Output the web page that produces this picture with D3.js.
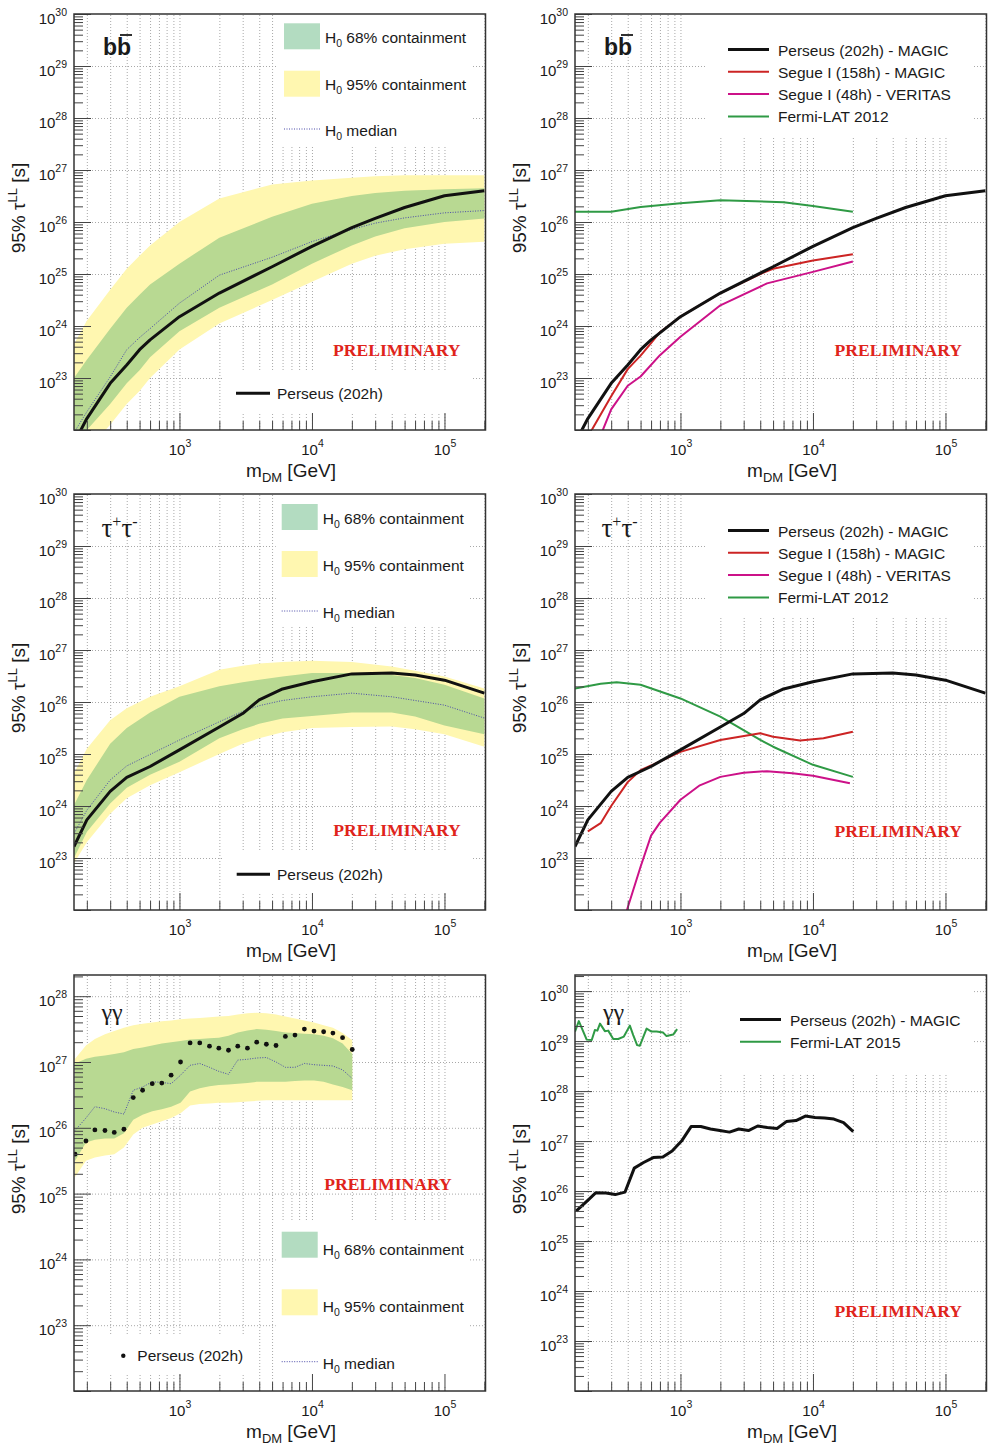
<!DOCTYPE html>
<html>
<head>
<meta charset="utf-8">
<script src="https://cdn.jsdelivr.net/npm/d3@7"></script>
<style>
  body { margin: 0; background: #fff; }
  text { font-family: "Liberation Sans", Arial, sans-serif; }
</style>
</head>
<body>
<svg id="chart" width="988" height="1445"></svg>
<script>
// ---- data (masses in GeV, lifetimes in s) ----
const xDomain = [160, 2.04e5];

// b bbar channel
const massBB = [160, 200, 300, 400, 500, 600, 1000, 2000, 5000, 10000, 20000, 30000, 50000, 100000, 200000];
const bbPerseus = [5.6e21, 1.66e22, 7.9e22, 1.78e23, 3.5e23, 5.4e23, 1.51e24, 4.3e24, 1.38e25, 3.4e25, 7.8e25, 1.17e26, 1.9e26, 3.2e26, 4.0e26];
const bbMedian = [8.9e21, 2.24e22, 1.05e23, 3.5e23, 6.0e23, 8.9e23, 2.75e24, 9.5e24, 2.1e25, 4.2e25, 7.2e25, 9.5e25, 1.2e26, 1.5e26, 1.66e26];
const bb68hi = [1.0e23, 2.24e23, 8.9e23, 2.24e24, 4.0e24, 6.3e24, 1.58e25, 5.0e25, 1.26e26, 2.24e26, 3.16e26, 3.63e26, 4.0e26, 4.27e26, 4.47e26];
const bb68lo = [5.0e21, 1.0e22, 3.16e22, 7.9e22, 1.41e23, 2.5e23, 7.9e23, 2.24e24, 6.3e24, 1.58e25, 3.55e25, 5.25e25, 7.6e25, 1.0e26, 1.17e26];
const bb95hi = [4.47e23, 1.26e24, 5.0e24, 1.26e25, 2.24e25, 3.55e25, 1.0e26, 2.82e26, 5.25e26, 6.3e26, 7.1e26, 7.6e26, 7.9e26, 7.9e26, 7.9e26];
const bb95lo = [2.0e21, 4.0e21, 1.26e22, 3.16e22, 5.6e22, 1.0e23, 3.55e23, 1.12e24, 3.16e24, 7.1e24, 1.58e25, 2.24e25, 3.0e25, 3.8e25, 4.17e25];
const massSegueBB = [200, 300, 400, 500, 600, 700, 1000, 2000, 4000, 5000, 10000, 20000];
const bbSegueMagic = [7.4e21, 4.47e22, 1.48e23, 2.69e23, 4.68e23, 7.6e23, 1.51e24, 4.3e24, 1.0e25, 1.26e25, 1.82e25, 2.4e25];
const massVeritasBB = [250, 300, 400, 500, 700, 1000, 2000, 4500, 10000, 20000];
const bbSegueVeritas = [7.9e21, 2.5e22, 7.1e22, 1.07e23, 2.75e23, 6.2e23, 2.5e24, 6.6e24, 1.1e25, 1.74e25];
const massFermiBB = [160, 300, 500, 1000, 2000, 6000, 10000, 20000];
const bbFermi = [1.58e26, 1.58e26, 1.95e26, 2.29e26, 2.63e26, 2.4e26, 2.04e26, 1.58e26];

// tau+ tau- channel
const massTT = [160, 200, 300, 400, 600, 1000, 2000, 3000, 4000, 6000, 10000, 20000, 40000, 60000, 100000, 200000];
const ttPerseus = [1.66e23, 5.4e23, 1.91e24, 3.55e24, 5.75e24, 1.2e25, 3.3e25, 6.0e25, 1.1e26, 1.78e26, 2.45e26, 3.47e26, 3.63e26, 3.3e26, 2.63e26, 1.48e26];
const ttMedian = [2.95e23, 8.3e23, 3.16e24, 5.9e24, 9.8e24, 1.86e25, 4.17e25, 6.6e25, 8.5e25, 1.07e26, 1.26e26, 1.48e26, 1.26e26, 1.07e26, 8.7e25, 4.9e25];
const tt68hi = [1.05e24, 3.16e24, 1.58e25, 3.16e25, 6.3e25, 1.26e26, 2.0e26, 2.4e26, 2.69e26, 3.09e26, 3.63e26, 3.63e26, 3.3e26, 2.88e26, 2.14e26, 1.17e26];
const tt68lo = [1.0e23, 3.16e23, 1.12e24, 2.24e24, 4.0e24, 7.1e24, 2.0e25, 3.0e25, 3.8e25, 4.8e25, 5.4e25, 6.3e25, 6.3e25, 5.25e25, 3.55e25, 2.4e25];
const tt95hi = [4.27e24, 1.26e25, 4.47e25, 7.6e25, 1.26e26, 2.0e26, 4.17e26, 5.0e26, 5.5e26, 5.9e26, 6.2e26, 5.9e26, 4.79e26, 4.0e26, 3.09e26, 1.82e26];
const tt95lo = [7.9e22, 2.0e23, 7.1e23, 1.41e24, 2.5e24, 4.47e24, 1.0e25, 1.58e25, 2.0e25, 2.63e25, 3.16e25, 3.3e25, 3.39e25, 3.0e25, 2.4e25, 1.38e25];
const massSegueTT = [200, 250, 300, 400, 500, 600, 1000, 2000, 4000, 5000, 8000, 12000, 20000];
const ttSegueMagic = [3.24e23, 4.68e23, 1.0e24, 2.88e24, 4.9e24, 6.0e24, 1.1e25, 1.86e25, 2.5e25, 2.14e25, 1.82e25, 2.0e25, 2.69e25];
const massVeritasTT = [350, 400, 500, 600, 700, 1000, 1400, 2000, 3000, 4500, 7000, 10000, 19000];
const ttSegueVeritas = [3.16e21, 1.12e22, 6.8e22, 2.7e23, 4.8e23, 1.32e24, 2.5e24, 3.63e24, 4.37e24, 4.68e24, 4.27e24, 3.8e24, 2.75e24];
const massFermiTT = [160, 250, 330, 500, 1000, 2000, 4000, 5000, 10000, 20000];
const ttFermi = [1.82e26, 2.24e26, 2.4e26, 2.14e26, 1.17e26, 5.25e25, 1.86e25, 1.38e25, 6.2e24, 3.63e24];

// gamma gamma channel
const massGG = [163, 197, 230, 274, 322, 381, 448, 527, 623, 736, 865, 1019, 1203, 1423, 1685, 1982, 2344, 2754, 3258, 3828, 4528, 5354, 6300, 7444, 8765, 10360, 12250, 14390, 17020, 20140];
const ggPerseus = [3.98e25, 6.3e25, 9.3e25, 9.1e25, 8.5e25, 9.5e25, 2.88e26, 3.72e26, 4.68e26, 4.79e26, 6.3e26, 1.0e27, 1.95e27, 1.95e27, 1.74e27, 1.62e27, 1.51e27, 1.74e27, 1.62e27, 2.0e27, 1.86e27, 1.78e27, 2.45e27, 2.57e27, 3.16e27, 2.95e27, 2.88e27, 2.75e27, 2.34e27, 1.55e27];
const ggMedian = [9.1e25, 1.41e26, 2.09e26, 1.95e26, 1.74e26, 1.62e26, 3.72e26, 4.17e26, 5.0e26, 4.9e26, 4.68e26, 6.3e26, 8.9e26, 9.5e26, 8.3e26, 7.2e26, 6.5e26, 1.07e27, 1.1e27, 1.15e27, 1.17e27, 1.0e27, 8.3e26, 8.3e26, 9.5e26, 9.1e26, 8.9e26, 8.7e26, 7.6e26, 5.6e26];
const gg68hi = [9.5e26, 1.12e27, 1.2e27, 1.26e27, 1.32e27, 1.41e27, 1.58e27, 1.66e27, 1.78e27, 1.91e27, 2.0e27, 2.09e27, 2.19e27, 2.24e27, 2.29e27, 2.34e27, 2.51e27, 2.82e27, 3.02e27, 3.16e27, 3.09e27, 2.95e27, 2.82e27, 2.75e27, 2.69e27, 2.63e27, 2.51e27, 2.29e27, 1.91e27, 1.32e27];
const gg68lo = [3.16e25, 6.0e25, 6.6e25, 6.9e25, 6.9e25, 8.3e25, 1.32e26, 1.58e26, 1.78e26, 1.91e26, 2.09e26, 2.4e26, 3.55e26, 4.0e26, 4.27e26, 4.47e26, 4.57e26, 4.68e26, 4.79e26, 5.0e26, 5.0e26, 5.0e26, 5.0e26, 5.13e26, 5.25e26, 5.25e26, 5.0e26, 4.57e26, 4.17e26, 3.72e26];
const gg95hi = [1.12e27, 1.78e27, 2.24e27, 2.63e27, 2.95e27, 3.31e27, 3.63e27, 3.8e27, 3.98e27, 4.17e27, 4.27e27, 4.47e27, 4.57e27, 4.68e27, 4.79e27, 4.9e27, 5.0e27, 5.25e27, 5.5e27, 5.6e27, 5.5e27, 5.25e27, 4.9e27, 4.57e27, 4.27e27, 3.98e27, 3.63e27, 3.31e27, 2.75e27, 2.14e27];
const gg95lo = [1.78e25, 3.16e25, 3.55e25, 3.8e25, 3.98e25, 5.0e25, 7.9e25, 1.0e26, 1.12e26, 1.26e26, 1.41e26, 1.66e26, 2.19e26, 2.29e26, 2.34e26, 2.4e26, 2.4e26, 2.45e26, 2.51e26, 2.57e26, 2.63e26, 2.63e26, 2.63e26, 2.63e26, 2.63e26, 2.63e26, 2.63e26, 2.63e26, 2.63e26, 2.63e26];
const massFermiGG = [160, 171, 196, 214, 226, 236, 247, 269, 285, 311, 339, 374, 415, 440, 471, 494, 555, 605, 660, 740, 785, 881, 944];
const ggFermi = [1.55e29, 2.51e29, 1.07e29, 1.05e29, 1.66e29, 1.62e29, 2.24e29, 1.58e29, 1.62e29, 1.1e29, 1.1e29, 1.23e29, 2.04e29, 1.32e29, 8.3e28, 8.1e28, 1.78e29, 1.55e29, 1.55e29, 1.48e29, 1.26e29, 1.35e29, 1.74e29];

// ---- styles ----
const cYellow = '#fff7b0', cGreenBand = '#b8d992', cGreenKey = '#b3dcc1';
const cRed = '#cc2424', cMagenta = '#cc1188', cFermi = '#2f9a45', cMedian = '#4a4aa8';

const svg = d3.select('#chart');
const isDecade = v => Math.abs(Math.log10(v) - Math.round(Math.log10(v))) < 1e-6;

function powLabel(sel) {
  sel.each(function (d) {
    const t = d3.select(this).text(null)
      .style('font-size', '15px').style('font-family', '"Liberation Sans", Arial, sans-serif').attr('fill', '#1a1a1a');
    t.append('tspan').text('10');
    t.append('tspan').attr('dy', -8).style('font-size', '10.5px').text(Math.round(Math.log10(d)));
  });
}

function makePanel(id, x0, y0, y1, yTop) {
  const x1 = x0 + 411.5, w = x1 - x0, h = y1 - y0;
  const x = d3.scaleLog().domain(xDomain).range([x0, x1]);
  const y = d3.scaleLog().domain([1e22, yTop]).range([y1, y0]);
  const g = svg.append('g');
  svg.append('clipPath').attr('id', 'clip-' + id).append('rect')
    .attr('x', x0).attr('y', y0).attr('width', w).attr('height', h);

  const xAll = x.ticks(), yAll = y.ticks();
  const xMajor = xAll.filter(isDecade), xMinor = xAll.filter(v => !isDecade(v));
  const yMajor = yAll.filter(isDecade), yMinor = yAll.filter(v => !isDecade(v));

  // dotted grid
  g.append('g').attr('class', 'grid').attr('transform', `translate(0,${y1})`)
    .call(d3.axisBottom(x).tickValues(xAll).tickSize(-h).tickFormat(''));
  g.append('g').attr('class', 'grid').attr('transform', `translate(${x0},0)`)
    .call(d3.axisLeft(y).tickValues(yMajor.filter(v => y(v) > y0 + 1 && y(v) < y1 - 1)).tickSize(-w).tickFormat(''));
  g.selectAll('.grid .domain').remove();
  g.selectAll('.grid line').attr('stroke', '#a8a8a8').attr('stroke-dasharray', '1,2');

  const plot = g.append('g').attr('clip-path', `url(#clip-${id})`);
  const over = g.append('g');

  function finish() {
    const axes = g.append('g').attr('color', '#444');
    axes.append('g').attr('transform', `translate(0,${y1})`)
      .call(d3.axisBottom(x).tickValues(xMinor).tickSize(-9).tickFormat(''));
    axes.append('g').attr('transform', `translate(0,${y1})`)
      .call(d3.axisBottom(x).tickValues(xMajor).tickSize(-17).tickPadding(14))
      .selectAll('text').call(powLabel);
    axes.append('g').attr('transform', `translate(${x0},0)`)
      .call(d3.axisLeft(y).tickValues(yMinor).tickSize(-9).tickFormat(''));
    axes.append('g').attr('transform', `translate(${x0},0)`)
      .call(d3.axisLeft(y).tickValues(yMajor).tickSize(-17).tickPadding(7))
      .selectAll('text').attr('dy', '0.6em').call(powLabel)
      .filter(d => d < 1e23).remove();
    axes.selectAll('.domain').remove();

    g.append('rect').attr('x', x0).attr('y', y0).attr('width', w).attr('height', h)
      .attr('fill', 'none').attr('stroke', '#333').attr('stroke-width', 1.5);

    // axis titles
    const xt = g.append('text').attr('x', x0 + 217).attr('y', y1 + 47)
      .attr('text-anchor', 'middle').style('font-size', '19px').attr('fill', '#1a1a1a');
    xt.append('tspan').text('m');
    xt.append('tspan').attr('dy', 5).style('font-size', '13px').text('DM');
    xt.append('tspan').attr('dy', -5).text(' [GeV]');
    const yt = g.append('text').attr('transform', `translate(${x0 - 49},${y0 + 194}) rotate(-90)`)
      .attr('text-anchor', 'middle').style('font-size', '19px').attr('fill', '#1a1a1a');
    yt.append('tspan').text('95% \u03c4');
    yt.append('tspan').attr('dy', -8).style('font-size', '13px').text('LL');
    yt.append('tspan').attr('dy', 8).text(' [s]');
  }
  return { g, plot, over, x, y, x0, x1, y0, y1, finish };
}

function zip(mass, ...cols) {
  return mass.map((m, i) => ({ m, v: cols.map(c => c[i]) }));
}

function bands(p, mass, lo95, hi95, lo68, hi68, median) {
  const area = (a, b) => d3.area().x(d => p.x(d.m)).y0(d => p.y(d.v[a])).y1(d => p.y(d.v[b]));
  const data = zip(mass, lo95, hi95, lo68, hi68, median);
  p.plot.append('path').datum(data).attr('d', area(0, 1)).attr('fill', cYellow);
  p.plot.append('path').datum(data).attr('d', area(2, 3)).attr('fill', cGreenBand);
  p.plot.append('path').datum(data)
    .attr('d', d3.line().x(d => p.x(d.m)).y(d => p.y(d.v[4])))
    .attr('fill', 'none').attr('stroke', cMedian).attr('stroke-width', 1).attr('stroke-dasharray', '1,1.5');
}

function curve(p, mass, vals, color, width) {
  p.plot.append('path').datum(zip(mass, vals))
    .attr('d', d3.line().x(d => p.x(d.m)).y(d => p.y(d.v[0])))
    .attr('fill', 'none').attr('stroke', color).attr('stroke-width', width)
    .attr('stroke-linejoin', 'round');
}

function whiteBox(p, x, y, w, h) {
  p.over.append('rect').attr('x', x).attr('y', y).attr('width', w).attr('height', h).attr('fill', '#fff');
}

function legendText(p, x, y, parts) {
  const t = p.over.append('text').attr('x', x).attr('y', y).style('font-size', '15.5px').attr('fill', '#1a1a1a');
  parts.forEach(([s, dy, fs]) => {
    const ts = t.append('tspan').text(s);
    if (dy) ts.attr('dy', dy);
    if (fs) ts.style('font-size', fs);
  });
  return t;
}

function h0Legend(p, x, ys) {
  whiteBox(p, x - 6, ys[6], 193, ys[7]);
  p.over.append('rect').attr('x', x).attr('y', ys[0]).attr('width', 36).attr('height', 26).attr('fill', cGreenKey);
  legendText(p, x + 41, ys[1], [['H'], ['0', 4, '10.5px'], [' 68% containment', -4]]);
  p.over.append('rect').attr('x', x).attr('y', ys[2]).attr('width', 36).attr('height', 26).attr('fill', cYellow);
  legendText(p, x + 41, ys[3], [['H'], ['0', 4, '10.5px'], [' 95% containment', -4]]);
  p.over.append('line').attr('x1', x).attr('x2', x + 36).attr('y1', ys[4]).attr('y2', ys[4])
    .attr('stroke', cMedian).attr('stroke-width', 1).attr('stroke-dasharray', '1,1.5');
  legendText(p, x + 41, ys[5], [['H'], ['0', 4, '10.5px'], [' median', -4]]);
}

function lineLegend(p, x, y, entries) {
  entries.forEach(([label, color, width], i) => {
    const yb = y + i * 22.3;
    p.over.append('line').attr('x1', x).attr('x2', x + 41).attr('y1', yb - 6).attr('y2', yb - 6)
      .attr('stroke', color).attr('stroke-width', width);
    legendText(p, x + 50, yb, [[label]]);
  });
}

function prelim(p, x, y) {
  p.over.append('text').attr('x', x).attr('y', y)
    .style('font-family', '"Liberation Serif", "Times New Roman", serif').style('font-weight', 'bold')
    .style('font-size', '17.6px').attr('fill', '#e0241b').text('PRELIMINARY');
}

function labelBB(p, x, y) {
  p.over.append('text').attr('x', x).attr('y', y).style('font-weight', 'bold').style('font-size', '23px')
    .attr('fill', '#1a1a1a').text('bb');
  p.over.append('line').attr('x1', x + 17).attr('x2', x + 29).attr('y1', y - 20).attr('y2', y - 20)
    .attr('stroke', '#1a1a1a').attr('stroke-width', 1.8);
}

function labelTT(p, x, y) {
  const t = p.over.append('text').attr('x', x).attr('y', y)
    .style('font-family', '"Liberation Serif", "Times New Roman", serif').style('font-size', '27px').attr('fill', '#1a1a1a');
  t.append('tspan').text('\u03c4');
  t.append('tspan').attr('dy', -10).style('font-size', '16px').text('+');
  t.append('tspan').attr('dy', 10).text('\u03c4');
  t.append('tspan').attr('dy', -10).style('font-size', '16px').text('-');
}

function labelGG(p, x, y) {
  p.over.append('text').attr('x', x).attr('y', y)
    .style('font-family', '"Liberation Serif", "Times New Roman", serif').style('font-size', '24px')
    .attr('fill', '#1a1a1a').text('\u03b3\u03b3');
}

// ---- top left: bb, containment ----
{
  const p = makePanel('tl', 74, 14, 430, 1e30);
  bands(p, massBB, bb95lo, bb95hi, bb68lo, bb68hi, bbMedian);
  curve(p, massBB, bbPerseus, '#111', 3);
  h0Legend(p, 284, [23.3, 42.7, 70.7, 90, 129, 136, 15, 130]);
  whiteBox(p, 224, 371, 247, 41);
  p.over.append('line').attr('x1', 236).attr('x2', 270).attr('y1', 393.3).attr('y2', 393.3).attr('stroke', '#111').attr('stroke-width', 3);
  legendText(p, 277, 398.5, [['Perseus (202h)']]);
  prelim(p, 333, 356);
  labelBB(p, 103, 55);
  p.finish();
}

// ---- top right: bb, comparison ----
{
  const p = makePanel('tr', 575, 14, 430, 1e30);
  curve(p, massFermiBB, bbFermi, cFermi, 2);
  curve(p, massVeritasBB, bbSegueVeritas, cMagenta, 2);
  curve(p, massSegueBB, bbSegueMagic, cRed, 2);
  curve(p, massBB, bbPerseus, '#111', 3);
  whiteBox(p, 705, 15, 267, 122);
  lineLegend(p, 728, 55.5, [['Perseus (202h) - MAGIC', '#111', 3], ['Segue I (158h) - MAGIC', cRed, 2],
    ['Segue I (48h) - VERITAS', cMagenta, 2], ['Fermi-LAT 2012', cFermi, 2]]);
  prelim(p, 834.5, 356);
  labelBB(p, 604, 55);
  p.finish();
}

// ---- middle left: tau tau, containment ----
{
  const p = makePanel('ml', 74, 494, 910, 1e30);
  bands(p, massTT, tt95lo, tt95hi, tt68lo, tt68hi, ttMedian);
  curve(p, massTT, ttPerseus, '#111', 3);
  h0Legend(p, 281.7, [504, 524.3, 551, 570.5, 611, 617.5, 495, 132]);
  whiteBox(p, 224, 851, 247, 42);
  p.over.append('line').attr('x1', 236.7).attr('x2', 270).attr('y1', 874.3).attr('y2', 874.3).attr('stroke', '#111').attr('stroke-width', 3);
  legendText(p, 277, 879.5, [['Perseus (202h)']]);
  prelim(p, 333.3, 836);
  labelTT(p, 101.5, 537);
  p.finish();
}

// ---- middle right: tau tau, comparison ----
{
  const p = makePanel('mr', 575, 494, 910, 1e30);
  curve(p, massFermiTT, ttFermi, cFermi, 2);
  curve(p, massVeritasTT, ttSegueVeritas, cMagenta, 2);
  curve(p, massSegueTT, ttSegueMagic, cRed, 2);
  curve(p, massTT, ttPerseus, '#111', 3);
  whiteBox(p, 705, 495, 267, 122);
  lineLegend(p, 728, 536.5, [['Perseus (202h) - MAGIC', '#111', 3], ['Segue I (158h) - MAGIC', cRed, 2],
    ['Segue I (48h) - VERITAS', cMagenta, 2], ['Fermi-LAT 2012', cFermi, 2]]);
  prelim(p, 834.5, 836.7);
  labelTT(p, 601.5, 537);
  p.finish();
}

// ---- bottom left: gamma gamma, containment ----
{
  const p = makePanel('bl', 74, 975, 1391, 2.1e28);
  bands(p, massGG, gg95lo, gg95hi, gg68lo, gg68hi, ggMedian);
  p.plot.selectAll('circle').data(zip(massGG, ggPerseus)).join('circle')
    .attr('cx', d => p.x(d.m)).attr('cy', d => p.y(d.v[0])).attr('r', 2.4).attr('fill', '#111');
  h0Legend(p, 281.7, [1231.7, 1255, 1289.3, 1311.7, 1361.7, 1368.5, 1222, 165]);
  whiteBox(p, 100, 1336, 145, 38);
  p.over.append('circle').attr('cx', 123.3).attr('cy', 1355.7).attr('r', 2.2).attr('fill', '#111');
  legendText(p, 137.3, 1361.3, [['Perseus (202h)']]);
  prelim(p, 324.3, 1190);
  labelGG(p, 101.5, 1020);
  p.finish();
}

// ---- bottom right: gamma gamma, comparison ----
{
  const p = makePanel('br', 575, 975, 1391, 2.1e30);
  curve(p, massFermiGG, ggFermi, cFermi, 2);
  curve(p, massGG, ggPerseus, '#111', 3);
  whiteBox(p, 690, 976, 282, 97);
  lineLegend(p, 740, 1025.5, [['Perseus (202h) - MAGIC', '#111', 3], ['Fermi-LAT 2015', cFermi, 2]]);
  prelim(p, 834.5, 1317.3);
  labelGG(p, 603, 1020);
  p.finish();
}
</script>
</body>
</html>
